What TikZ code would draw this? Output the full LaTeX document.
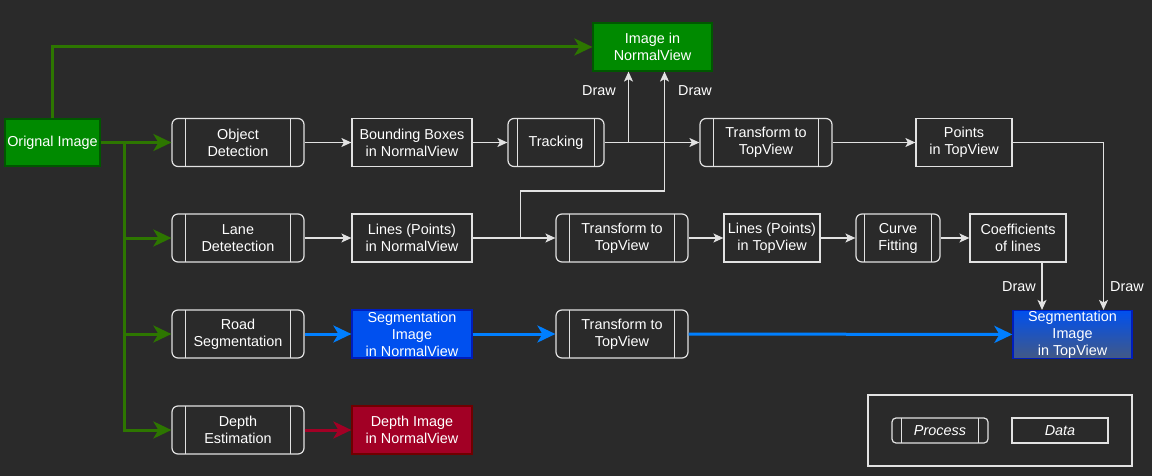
\documentclass[tikz,border=0pt]{standalone}
\usepackage{fontspec}
\setmainfont{Liberation Sans}
\usetikzlibrary{arrows.meta}
\definecolor{bg}{HTML}{2A2A2A}
\definecolor{boxc}{HTML}{E2E2E2}
\definecolor{grn}{HTML}{008A00}
\definecolor{grnd}{HTML}{005700}
\definecolor{grnl}{HTML}{2D7600}
\definecolor{blu}{HTML}{0050EF}
\definecolor{blud}{HTML}{001DBC}
\definecolor{blul}{HTML}{007FFF}
\definecolor{crim}{HTML}{A20025}
\definecolor{crimd}{HTML}{6F0000}
\tikzset{
  procbox/.style={draw=boxc, line width=1.2pt, rounded corners=6pt, minimum width=#1,
    minimum height=48pt, inner sep=0pt, text=white, align=center,
    path picture={\draw[boxc, line width=1.2pt]
      ([xshift=0.1*#1]path picture bounding box.north west) -- ([xshift=0.1*#1]path picture bounding box.south west)
      ([xshift=-0.1*#1]path picture bounding box.north east) -- ([xshift=-0.1*#1]path picture bounding box.south east);}},
  procbox/.default=132pt,
  databox/.style={draw=boxc, line width=1.2pt, minimum width=#1, minimum height=48pt,
    inner sep=0pt, text=white, align=center},
  databox/.default=120pt,
  lbl/.style={text=white},
  wline/.style={draw=boxc, line width=1.2pt, -{Stealth[length=10pt,width=9pt,inset=2.5pt]}},
  thick line/.style={line width=3pt, -{Stealth[length=18pt,width=17pt,inset=5pt]}},
}
\begin{document}
\begin{tikzpicture}[x=1pt, y=-1pt, every node/.style={font=\fontsize{14.4}{17}\selectfont}]
\fill[bg] (0,0) rectangle (1152,476);

% inputs
\node[databox=95pt, minimum height=47pt, fill=grn, draw=grnd] (orig) at (52.5,142.5) {Orignal Image};
\node[databox=119pt, fill=grn, draw=grnd] (imgnv) at (652.5,47) {Image in\\NormalView};

% object branch
\node[procbox] (od) at (238,142.5) {Object\\Detection};
\node[databox] (bb) at (412,142.5) {Bounding Boxes\\in NormalView};
\node[procbox=96pt] (trk) at (556,142.5) {Tracking};
\node[procbox] (tt1) at (766,142.5) {Transform to\\TopView};
\node[databox=96pt] (pts) at (964,142.5) {Points\\in TopView};

% lane branch
\node[procbox] (lane) at (238,238) {Lane\\Detetection};
\node[databox] (lnv) at (412,238) {Lines (Points)\\in NormalView};
\node[procbox] (tt2) at (622,238) {Transform to\\TopView};
\node[databox=96pt] (ltv) at (772,238) {Lines (Points)\\in TopView};
\node[procbox=84pt] (cf) at (898,238) {Curve\\Fitting};
\node[databox=96pt] (coef) at (1018,238) {Coefficients\\of lines};

% road branch
\node[procbox] (road) at (238,334) {Road\\Segmentation};
\node[databox, fill=blu, draw=blud] (segnv) at (412,334) {Segmentation\\Image\\in NormalView};
\node[procbox] (tt3) at (622,334) {Transform to\\TopView};
\node[databox=119pt, top color=blu, bottom color=blu!35!gray!80!black, draw=blud] (segtv) at (1072.5,334.5) {Segmentation\\Image\\in TopView};

% depth branch
\node[procbox] (depth) at (238,430) {Depth\\Estimation};
\node[databox, fill=crim, draw=crimd] (dimg) at (412,430) {Depth Image\\in NormalView};

% green
\coordinate (br) at (124,142.5);
\draw[thick line, grnl] (orig.north) |- (imgnv.west);
\draw[thick line, grnl] (orig.east) -- (od.west);
\draw[thick line, grnl] (br) |- (lane.west);
\draw[thick line, grnl] (br) |- (road.west);
\draw[thick line, grnl] (br) |- (depth.west);

% white
\draw[wline] (od) -- (bb);
\draw[wline] (bb) -- (trk);
\draw[wline] (trk) -- (tt1);
\draw[wline] (tt1) -- (pts);
\draw[wline] (trk.east) -| ([xshift=-24pt]imgnv.south);
\draw[wline] (lane) -- (lnv);
\draw[wline] (lnv.east) -- ++(48,0) -- ++(0,-47) -| ([xshift=12pt]imgnv.south);
\draw[wline] (lnv) -- (tt2);
\draw[wline] (tt2) -- (ltv);
\draw[wline] (ltv) -- (cf);
\draw[wline] (cf) -- (coef);
\draw[wline] (pts.east) -| ([xshift=31pt]segtv.north);
\draw[wline] ([xshift=24pt]coef.south) -- ([xshift=24pt]coef.south |- segtv.north);
\node[lbl] (d1) at (599,91) {Draw};
\node[lbl] (d2) at (695,91) {Draw};
\node[lbl] (d3) at (1019,287) {Draw};
\node[lbl] (d4) at (1127,287) {Draw};

% blue and red
\draw[thick line, blul] (road) -- (segnv);
\draw[thick line, blul] (segnv) -- (tt3);
\draw[thick line, blul] (tt3) -- (segtv);
\draw[thick line, crim] (depth) -- (dimg);

% legend
\draw[boxc, line width=1.2pt] (868,395) rectangle (1132,466);
\node[procbox=96pt, minimum height=25pt, rounded corners=4pt] (lp) at (940,430.5) {\itshape Process};
\node[databox=96pt, minimum height=25pt] (ld) at (1060,430.5) {\itshape Data};
\end{tikzpicture}
\end{document}
